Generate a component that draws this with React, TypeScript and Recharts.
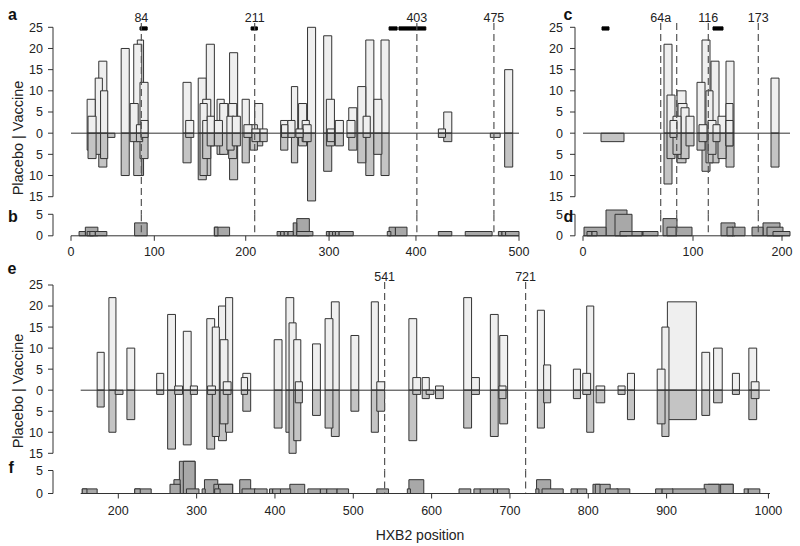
import React from "react";
import { ComposedChart, XAxis, YAxis, ReferenceArea, ReferenceLine } from "recharts";

const FONT = '"Liberation Sans", Arial, Helvetica, sans-serif';
const PLACEBO = "#efefef";
const VACCINE = "#c4c4c4";
const COUNT = "#a8a8a8";
const EDGE = "#333333";
const TEXT = "#222222";

// boxes: [start, end, placebo, vaccine] in alignment columns
const aBoxes: number[][] = [
  [18, 27, 8, 4], [19, 28, 4, 6], [27, 35, 13, 5], [31, 40, 17, 8], [33, 41, 10, 6], [41, 49, 0, 1],
  [56, 65, 20, 10], [66, 75, 7, 2], [70, 79, 21, 10], [74, 81, 22, 10], [73, 80, 2, 2], [77, 86, 12, 6], [78, 86, 3, 1],
  [125, 134, 12, 7], [128, 137, 3, 1], [142, 151, 13, 11], [144, 152, 7, 10], [147, 156, 8, 10], [151, 160, 21, 3],
  [147, 156, 3, 6], [152, 160, 4, 3], [163, 171, 8, 5], [160, 169, 3, 3], [166, 175, 7, 5], [177, 186, 19, 11],
  [176, 185, 7, 6], [174, 182, 4, 4], [180, 189, 4, 3], [191, 199, 8, 7], [193, 202, 2, 1], [200, 208, 2, 4],
  [205, 214, 7, 3], [202, 211, 1, 2], [211, 219, 1, 2],
  [234, 242, 3, 4], [235, 242, 2, 1], [246, 253, 11, 7], [242, 250, 3, 1], [251, 259, 1, 1], [254, 263, 7, 3],
  [258, 266, 3, 2], [259, 268, 2, 2], [264, 273, 25, 16], [282, 291, 23, 9], [285, 294, 8, 3], [286, 294, 1, 2],
  [295, 304, 3, 3], [310, 319, 6, 4], [308, 317, 3, 1], [320, 329, 11, 7], [326, 334, 4, 1], [329, 338, 22, 10],
  [338, 347, 8, 5], [346, 355, 22, 10], [410, 418, 1, 1], [416, 425, 5, 2], [468, 479, 0, 1], [484, 493, 15, 8],
];

// counts: [start, end, count]
const bCounts: number[][] = [
  [9, 16, 1], [16, 30, 2], [18, 25, 1], [21, 27, 1], [27, 40, 1], [71, 85, 3], [160, 177, 2], [160, 164, 2],
  [230, 234, 1], [234, 238, 1], [238, 242, 1], [242, 248, 1], [248, 252, 3], [252, 266, 4], [252, 270, 1],
  [285, 288, 1], [288, 292, 1], [292, 295, 1], [295, 299, 1], [299, 315, 1], [353, 357, 1], [355, 362, 2],
  [362, 375, 2], [410, 425, 1], [440, 470, 1], [477, 481, 1], [481, 485, 1], [485, 500, 1],
];

const cBoxes: number[][] = [
  [18, 41, 0, 2],
  [81, 89, 21, 12], [84, 92, 9, 6], [87, 94, 3, 1], [90, 98, 4, 5], [94, 103, 10, 7], [95, 104, 7, 6],
  [98, 106, 6, 6], [103, 111, 4, 3], [114, 122, 12, 4], [116, 124, 2, 2], [119, 127, 22, 9], [123, 130, 10, 7],
  [125, 133, 3, 5], [128, 136, 17, 7], [130, 137, 2, 2], [135, 143, 4, 6], [143, 151, 17, 8], [143, 150, 7, 3],
  [143, 150, 3, 3], [188, 196, 13, 8],
];

const dCounts: number[][] = [
  [1, 23, 2], [4, 9, 1], [9, 14, 1], [23, 44, 6], [32, 49, 5], [37, 60, 1], [49, 59, 1], [60, 75, 1],
  [80, 94, 4], [84, 93, 2], [93, 109, 2], [138, 152, 3], [144, 150, 2], [149, 162, 2],
  [169, 180, 2], [180, 197, 3], [184, 200, 2], [190, 207, 1],
];

const eBoxes: number[][] = [
  [173, 182, 9, 4], [188, 197, 22, 10], [196, 206, 0, 1], [211, 221, 10, 7], [249, 258, 4, 1],
  [263, 273, 18, 14], [272, 282, 1, 1], [283, 293, 14, 13], [292, 301, 1, 1],
  [313, 323, 17, 14], [314, 324, 1, 1], [320, 329, 15, 11], [328, 338, 20, 12], [330, 340, 12, 8],
  [337, 346, 22, 10], [334, 344, 2, 1], [357, 365, 3, 1], [359, 369, 4, 5], [399, 409, 12, 9],
  [414, 424, 22, 10], [418, 427, 16, 15], [424, 433, 12, 12], [426, 435, 2, 3], [448, 458, 11, 6],
  [464, 474, 17, 9], [472, 482, 21, 11], [497, 507, 13, 5], [523, 532, 21, 10], [530, 540, 2, 5],
  [571, 581, 17, 12], [576, 586, 3, 1], [588, 597, 3, 2], [593, 603, 0, 1], [605, 615, 1, 2],
  [641, 651, 22, 9], [651, 661, 3, 1], [675, 685, 18, 11], [687, 697, 13, 8], [686, 695, 1, 2],
  [735, 744, 19, 9], [743, 752, 6, 3], [781, 790, 5, 2], [798, 807, 20, 10], [793, 803, 4, 1],
  [810, 821, 1, 3], [838, 847, 1, 1], [850, 859, 4, 7], [888, 898, 5, 8], [894, 903, 15, 11],
  [901, 938, 21, 7], [945, 955, 9, 6], [960, 971, 10, 3], [984, 993, 4, 1], [1005, 1015, 10, 7],
  [1008, 1018, 2, 2],
];

const fCounts: number[][] = [
  [154, 173, 1], [154, 160, 1], [221, 242, 1], [221, 228, 1],
  [266, 279, 2], [271, 279, 3], [278, 298, 7], [283, 298, 7], [287, 303, 1], [307, 311, 1], [310, 327, 3],
  [322, 346, 2], [328, 346, 2], [323, 330, 1], [355, 369, 3], [358, 375, 1], [374, 390, 1],
  [393, 397, 1], [397, 407, 1], [407, 420, 1], [419, 438, 2], [442, 458, 1], [458, 466, 1], [466, 479, 1],
  [479, 494, 1], [530, 545, 1], [569, 573, 1], [571, 590, 3], [635, 650, 1], [654, 662, 1], [662, 679, 1],
  [679, 684, 1], [684, 699, 1], [733, 737, 1], [734, 752, 3], [741, 768, 1], [778, 786, 1], [786, 798, 1],
  [806, 828, 2], [809, 815, 2], [822, 838, 1], [836, 853, 1], [886, 894, 1], [894, 908, 1], [907, 950, 1],
  [948, 967, 2], [953, 985, 2], [969, 985, 2], [999, 1004, 1], [1004, 1019, 1],
];

// signature sites (dashed lines) and black marker bars
const aSites = [
  { x: 78.5, label: "84" }, { x: 205, label: "211" }, { x: 386, label: "403" }, { x: 472, label: "475" },
];
const cSites = [
  { x: 77.7, label: "64a" }, { x: 93.7, label: "" }, { x: 125.3, label: "116" }, { x: 175.3, label: "173" },
];
const eSites = [{ x: 540, label: "541" }, { x: 720, label: "721" }];
const aMarkers = [[77, 85], [201, 208], [355, 364], [366, 396]];
const cMarkers = [[19, 26], [130, 140]];

// axis ticks: alignment column -> HXB2 label
const abTicks = [0, 93, 195, 288, 385, 500];
const abLabels = ["0", "100", "200", "300", "400", "500"];
const cdTicks = [0, 110, 199];
const cdLabels = ["0", "100", "200"];
const efTicks = [200, 300, 400, 500, 600, 700, 800, 900, 1030];
const efLabels = ["200", "300", "400", "500", "600", "700", "800", "900", "1000"];
const boxTicks = [-15, -10, -5, 0, 5, 10, 15, 20, 25];
const countTicks = [0, 5];

const AXIS_W = 30;
const tickStyle = { fontSize: 12.5, fill: TEXT, fontFamily: FONT };

type Layout = {
  axisX: number; dataLeft: number; right: number; domain: number[];
  top: number; bottom: number; countTop: number; countBottom: number; dashTop: number;
  ticks: number[]; labels: string[]; tickMargin: number; yLabelGap: number;
};

const layoutA: Layout = {
  axisX: 53, dataLeft: 71, right: 519, domain: [0, 500], top: 27.3, bottom: 196.7,
  countTop: 214.3, countBottom: 235.8, dashTop: 26, ticks: abTicks, labels: abLabels, tickMargin: 6, yLabelGap: 5,
};
const layoutC: Layout = {
  axisX: 575, dataLeft: 583, right: 790, domain: [0, 207], top: 27.3, bottom: 196.7,
  countTop: 214.3, countBottom: 235.8, dashTop: 26, ticks: cdTicks, labels: cdLabels, tickMargin: 6, yLabelGap: 7,
};
const layoutE: Layout = {
  axisX: 53, dataLeft: 80.7, right: 770, domain: [152, 1032], top: 285, bottom: 453.3,
  countTop: 470.5, countBottom: 493.5, dashTop: 25.7, ticks: efTicks, labels: efLabels, tickMargin: 8, yLabelGap: 5,
};

const layer: React.CSSProperties = { position: "absolute", left: 0, top: 0 };

function BoxPanel({ L, boxes, sites, markers }: { L: Layout; boxes: number[][]; sites: { x: number; label: string }[]; markers: number[][] }) {
  const sorted = [...boxes].sort((p, q) => q[2] + q[3] - (p[2] + p[3]));
  const perUnit = (L.bottom - L.top) / 40;
  const dashLow = -15 - (L.countTop - L.bottom) / perUnit;
  return (
    <div style={layer}>
      <ComposedChart
        width={800}
        height={546}
        data={[]}
        margin={{ top: L.top, bottom: 546 - L.bottom, left: L.axisX - AXIS_W, right: 800 - L.right }}
      >
        <XAxis type="number" dataKey="x" domain={L.domain} allowDataOverflow hide padding={{ left: L.dataLeft - L.axisX, right: 0 }} />
        <YAxis
          type="number"
          domain={[-15, 25]}
          ticks={boxTicks}
          interval={0}
          allowDataOverflow
          width={AXIS_W}
          tickSize={5}
          tickMargin={L.yLabelGap}
          tickFormatter={(v: number) => String(Math.abs(v))}
          tick={tickStyle}
          stroke={EDGE}
        />
        {sorted.map((b, i) => (
          <React.Fragment key={i}>
            {b[2] > 0 && (
              <ReferenceArea x1={b[0]} x2={b[1]} y1={0} y2={b[2]} fill={PLACEBO} fillOpacity={1} stroke={EDGE} strokeWidth={1} ifOverflow="visible" />
            )}
            {b[3] > 0 && (
              <ReferenceArea x1={b[0]} x2={b[1]} y1={-b[3]} y2={0} fill={VACCINE} fillOpacity={1} stroke={EDGE} strokeWidth={1} ifOverflow="visible" />
            )}
          </React.Fragment>
        ))}
        <ReferenceLine
          segment={[{ x: L.domain[0], y: 0 }, { x: L.domain[1], y: 0 }]}
          stroke={EDGE}
          strokeWidth={1}
          ifOverflow="visible"
        />
        {sites.map((s, i) => (
          <ReferenceLine
            key={"s" + i}
            segment={[{ x: s.x, y: L.dashTop }, { x: s.x, y: dashLow }]}
            stroke="#555555"
            strokeWidth={1.2}
            strokeDasharray="7 4"
            ifOverflow="visible"
            label={s.label ? { value: s.label, position: "top", offset: 1.5, fontSize: 12.5, fill: TEXT, fontFamily: FONT } : undefined}
          />
        ))}
        {markers.map((m, i) => (
          <ReferenceArea key={"m" + i} x1={m[0]} x2={m[1]} y1={24.35} y2={25.1} fill="#000" fillOpacity={1} stroke="#000" ifOverflow="visible" />
        ))}
      </ComposedChart>
    </div>
  );
}

function CountPanel({ L, counts, sites }: { L: Layout; counts: number[][]; sites: { x: number; label: string }[] }) {
  const sorted = [...counts].sort((p, q) => q[2] - p[2] || q[1] - q[0] - (p[1] - p[0]));
  const axisH = 25;
  return (
    <div style={layer}>
      <ComposedChart
        width={800}
        height={546}
        data={[]}
        margin={{ top: L.countTop, bottom: 546 - L.countBottom - axisH, left: L.axisX - AXIS_W, right: 800 - L.right }}
      >
        <XAxis
          type="number"
          dataKey="x"
          domain={L.domain}
          allowDataOverflow
          ticks={L.ticks}
          interval={0}
          height={axisH}
          padding={{ left: L.dataLeft - L.axisX, right: 0 }}
          axisLine={false}
          tickSize={5}
          tickMargin={L.tickMargin}
          tickLine={{ stroke: EDGE }}
          tickFormatter={(v: number) => L.labels[L.ticks.indexOf(v)] ?? ""}
          tick={tickStyle}
        />
        <YAxis
          type="number"
          domain={[0, 5]}
          ticks={countTicks}
          interval={0}
          allowDataOverflow
          width={AXIS_W}
          tickSize={5}
          tickMargin={L.yLabelGap}
          tick={tickStyle}
          stroke={EDGE}
        />
        {sorted.map((c, i) => (
          <ReferenceArea key={i} x1={c[0]} x2={c[1]} y1={0} y2={c[2]} fill={COUNT} fillOpacity={1} stroke={EDGE} strokeWidth={1} ifOverflow="visible" />
        ))}
        {sites.map((s, i) => (
          <ReferenceLine
            key={"s" + i}
            segment={[{ x: s.x, y: 5 }, { x: s.x, y: 0 }]}
            stroke="#555555"
            strokeWidth={1.2}
            strokeDasharray="7 4"
            ifOverflow="visible"
          />
        ))}
        <ReferenceLine
          segment={[{ x: L.domain[0], y: 0 }, { x: L.domain[1], y: 0 }]}
          stroke={EDGE}
          strokeWidth={1}
          ifOverflow="visible"
        />
      </ComposedChart>
    </div>
  );
}

export default function App() {
  const letter = { fontFamily: FONT, fontWeight: 700, fontSize: 16, fill: "#111" };
  return (
    <div style={{ position: "absolute", left: 0, top: 0, width: 800, height: 546, background: "#fff", overflow: "hidden" }}>
      <BoxPanel L={layoutA} boxes={aBoxes} sites={aSites} markers={aMarkers} />
      <CountPanel L={layoutA} counts={bCounts} sites={aSites} />
      <BoxPanel L={layoutC} boxes={cBoxes} sites={cSites} markers={cMarkers} />
      <CountPanel L={layoutC} counts={dCounts} sites={cSites} />
      <BoxPanel L={layoutE} boxes={eBoxes} sites={eSites} markers={[]} />
      <CountPanel L={layoutE} counts={fCounts} sites={eSites} />
      <svg width={800} height={546} style={layer}>
        <text x={8} y={19.5} {...letter}>a</text>
        <text x={8} y={221.7} {...letter}>b</text>
        <text x={563.5} y={19.5} {...letter}>c</text>
        <text x={563.5} y={221.7} {...letter}>d</text>
        <text x={7.5} y={273.5} {...letter}>e</text>
        <text x={8.5} y={472.7} {...letter}>f</text>
        <text transform="translate(23,138) rotate(-90)" textAnchor="middle" fontFamily={FONT} fontSize={14.5} fill={TEXT}>
          Placebo | Vaccine
        </text>
        <text transform="translate(23,391) rotate(-90)" textAnchor="middle" fontFamily={FONT} fontSize={14.5} fill={TEXT}>
          Placebo | Vaccine
        </text>
        <text x={420} y={540} textAnchor="middle" fontFamily={FONT} fontSize={14} fill={TEXT}>
          HXB2 position
        </text>
      </svg>
    </div>
  );
}
